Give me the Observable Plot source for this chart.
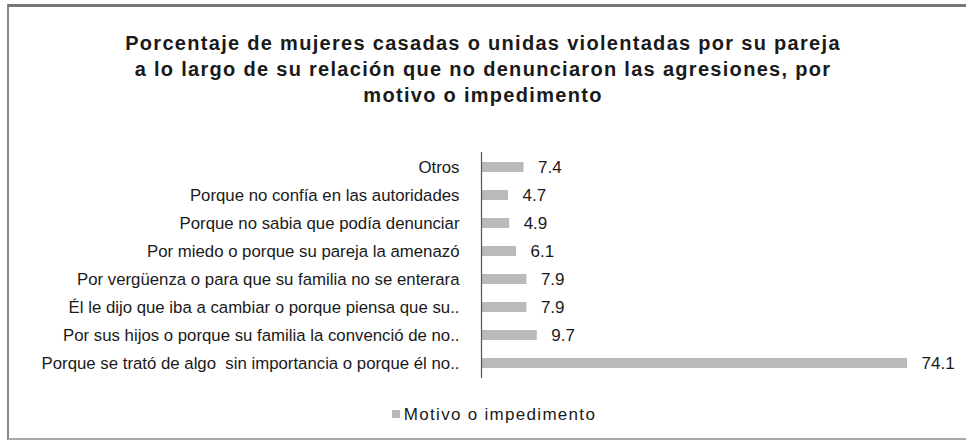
<!DOCTYPE html>
<html>
<head>
<meta charset="utf-8">
<script src="https://cdn.jsdelivr.net/npm/d3@7"></script>
<script src="https://cdn.jsdelivr.net/npm/@observablehq/plot@0.6"></script>
<style>
  html, body { margin: 0; padding: 0; background: #fff; }
  body { width: 966px; height: 442px; position: relative; overflow: hidden; font-family: "Liberation Sans", Arial, sans-serif; color: #1a1a1a; }
  #frame { position: absolute; left: 7px; top: 4px; width: 960px; height: 436px; border-top: 3px solid #777; border-left: 2px solid #888; border-bottom: 2px solid #aaa; box-sizing: border-box; }
  #title { position: absolute; left: 0; width: 966px; top: 30px; text-align: center; font-weight: bold; font-size: 20px; line-height: 26px; letter-spacing: 1.3px; color: #1a1a1a; }
  #chart { position: absolute; left: 0; top: 140px; }
  #legend { position: absolute; top: 405px; left: 0; width: 966px; text-align: center; font-size: 17px; letter-spacing: 1.3px; color: #1a1a1a; padding-left: 22px; box-sizing: border-box; }
  #legend .sw { display: inline-block; width: 8px; height: 8px; background: #b8b9b8; margin-right: 4px; vertical-align: 2px; }
</style>
</head>
<body>
<div id="frame"></div>
<div id="title">Porcentaje de mujeres casadas o unidas violentadas por su pareja<br>a lo largo de su relación que no denunciaron las agresiones, por<br>motivo o impedimento</div>
<div id="chart"></div>
<div id="legend"><span class="sw"></span>Motivo o impedimento</div>
<script>
const categories = [
  "Otros",
  "Porque no confía en las autoridades",
  "Porque no sabia que podía denunciar",
  "Por miedo o porque su pareja la amenazó",
  "Por vergüenza o para que su familia no se enterara",
  "Él le dijo que iba a cambiar o porque piensa que su..",
  "Por sus hijos o porque su familia la convenció de no..",
  "Porque se trató de algo  sin importancia o porque él no.."
];
const values = [7.4, 4.7, 4.9, 6.1, 7.9, 7.9, 9.7, 74.1];
const seriesName = "Motivo o impedimento";

const data = categories.map((c, i) => ({category: c, value: values[i]}));

const chart = Plot.plot({
  width: 966,
  height: 246,
  marginLeft: 481,
  marginRight: 59,
  marginTop: 12,
  marginBottom: 8,
  style: {fontFamily: "'Liberation Sans', Arial, sans-serif", fontSize: "15px", color: "#1a1a1a", background: "transparent"},
  x: {domain: [0, 74.1], axis: null},
  y: {domain: categories, paddingInner: 0.64, paddingOuter: 0.22, label: null},
  marks: [
    Plot.barX(data, {x: "value", y: "category", fill: "#b9bbb9"}),
    Plot.ruleX([0], {stroke: "#555", strokeWidth: 1.2}),
    Plot.axisY({tickSize: 0, tickPadding: 22, fontSize: 16.8, fill: "#1a1a1a", label: null}),
    Plot.text(data, {x: "value", y: "category", text: d => d.value.toFixed(1), dx: 14, textAnchor: "start", fontSize: 17, fill: "#1a1a1a", ariaLabel: "values"})
  ]
});
d3.select(chart).selectAll('g[aria-label="y-axis tick label"] text').style("white-space", "pre");
d3.select(chart).selectAll('g[aria-label="values"] text').style("letter-spacing", "1px");
document.getElementById("chart").appendChild(chart);
</script>
</body>
</html>
